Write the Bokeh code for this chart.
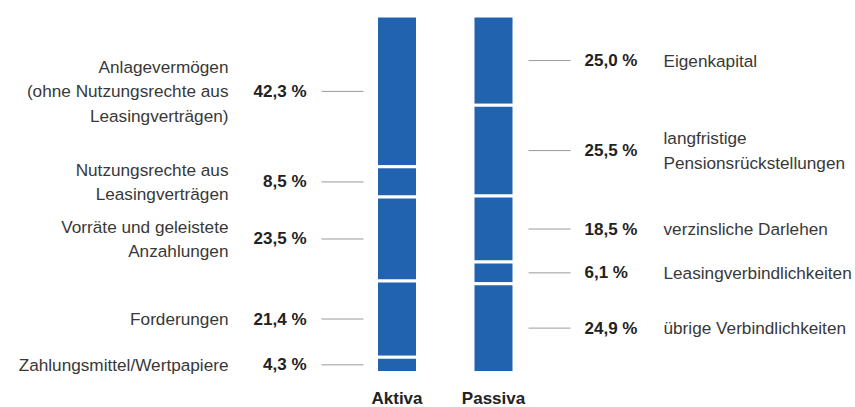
from bokeh.plotting import figure
from bokeh.models import Range1d, ColumnDataSource
from bokeh.core.properties import value
from bokeh.embed import file_html
from bokeh.resources import INLINE
import numpy as np

# Balance sheet structure (percent of total)
aktiva_labels = [
    "Anlagevermögen\n(ohne Nutzungsrechte aus\nLeasingverträgen)",
    "Nutzungsrechte aus\nLeasingverträgen",
    "Vorräte und geleistete\nAnzahlungen",
    "Forderungen",
    "Zahlungsmittel/Wertpapiere",
]
aktiva_values = [42.3, 8.5, 23.5, 21.4, 4.3]

passiva_labels = [
    "Eigenkapital",
    "langfristige\nPensionsrückstellungen",
    "verzinsliche Darlehen",
    "Leasingverbindlichkeiten",
    "übrige Verbindlichkeiten",
]
passiva_values = [25.0, 25.5, 18.5, 6.1, 24.9]

bar_names = ["Aktiva", "Passiva"]

BLUE = "#2263b0"
FONT = "Liberation Sans"
TEXT = "#383838"
BOLD = "#222222"
LABEL_SIZE = "17.2px"

# layout (screen-like x units, percent on y with 0 at the top)
X_AKT, X_PAS, BAR_W = 396.5, 493.0, 41.0

p = figure(width=855, height=407, output_backend="svg", toolbar_location=None,
           x_range=Range1d(0, 855), y_range=Range1d(109.82, -4.35),
           min_border=0, outline_line_color=None)
p.axis.visible = False
p.grid.visible = False
p.background_fill_color = "white"
p.border_fill_color = "white"


def stacked(values):
    v = np.array(values)
    bottom = np.concatenate([[0], np.cumsum(v)[:-1]])
    top = bottom + v
    mid = (bottom + top) / 2
    return bottom, top, mid


def fmt(v):
    return f"{v:.1f}".replace(".", ",") + " %"


for xc, vals in ((X_AKT, aktiva_values), (X_PAS, passiva_values)):
    b, t, _ = stacked(vals)
    src = ColumnDataSource(dict(x=[xc] * len(vals), bottom=b, top=t))
    p.vbar(x="x", bottom="bottom", top="top", width=BAR_W, source=src,
           fill_color=BLUE, line_color="white", line_width=3)

# left side: Aktiva
_, _, amid = stacked(aktiva_values)
p.segment(x0=[321] * 5, x1=[363] * 5, y0=amid, y1=amid, line_color="#9a9a9a", line_width=1)
p.text(x=[306] * 5, y=amid, text=[fmt(v) for v in aktiva_values],
       text_font=value(FONT), text_font_style="bold", text_font_size="17px",
       text_color=BOLD, text_align="right", text_baseline="middle")
p.text(x=[228] * 5, y=amid, text=aktiva_labels,
       text_font=value(FONT), text_font_size=LABEL_SIZE, text_line_height=1.22,
       text_color=TEXT, text_align="right", text_baseline="middle")

# right side: Passiva
_, _, pmid = stacked(passiva_values)
p.segment(x0=[528] * 5, x1=[570] * 5, y0=pmid, y1=pmid, line_color="#9a9a9a", line_width=1)
p.text(x=[584] * 5, y=pmid, text=[fmt(v) for v in passiva_values],
       text_font=value(FONT), text_font_style="bold", text_font_size="17px",
       text_color=BOLD, text_align="left", text_baseline="middle")
p.text(x=[663] * 5, y=pmid, text=passiva_labels,
       text_font=value(FONT), text_font_size=LABEL_SIZE, text_line_height=1.22,
       text_color=TEXT, text_align="left", text_baseline="middle")

# bar captions
p.text(x=[X_AKT, X_PAS], y=[100, 100], text=bar_names, y_offset=26,
       text_font=value(FONT), text_font_style="bold", text_font_size="17px",
       text_color=BOLD, text_align="center", text_baseline="middle")

open("out.html", "w").write(file_html(p, INLINE))
